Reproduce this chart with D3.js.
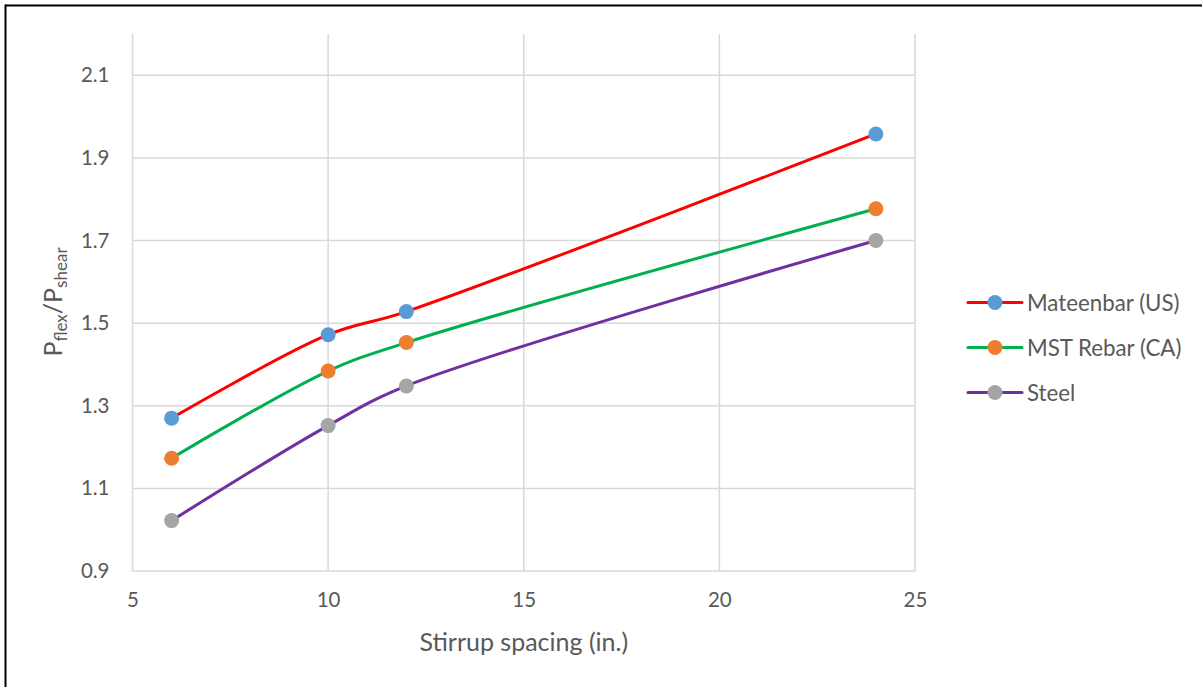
<!DOCTYPE html>
<html>
<head>
<meta charset="utf-8">
<script src="https://cdn.jsdelivr.net/npm/d3@7"></script>
<style>
  html, body { margin: 0; padding: 0; background: #fff; }
  svg { display: block; font-family: Lato, "Open Sans", sans-serif; }
</style>
</head>
<body>
<svg id="chart" width="1202" height="687"></svg>
<script>
// Stirrup spacing (in.) and flexural/shear capacity ratios
const spacing = [6, 10, 12, 24];
const mateenbar = [1.27, 1.472, 1.528, 1.958];
const mstRebar = [1.173, 1.384, 1.453, 1.777];
const steel = [1.022, 1.252, 1.348, 1.70];

const seriesNames = ["Mateenbar (US)", "MST Rebar (CA)", "Steel"];
const lineColors = ["#FF0000", "#00B050", "#7030A0"];
const markerColors = ["#5B9BD5", "#ED7D31", "#A5A5A5"];

const xTicks = [5, 10, 15, 20, 25];
const yTicks = [0.9, 1.1, 1.3, 1.5, 1.7, 1.9, 2.1];

const series = [mateenbar, mstRebar, steel].map((vals, i) => ({
  name: seriesNames[i],
  line: lineColors[i],
  marker: markerColors[i],
  points: spacing.map((s, j) => ({ x: s, y: vals[j] }))
}));

const svg = d3.select("#chart");
const plot = { left: 132.5, right: 915, top: 34, bottom: 571 };
const textColor = "#595959";

const x = d3.scaleLinear().domain([5, 25]).range([plot.left, plot.right]);
const y = d3.scaleLinear().domain([0.9, 2.2]).range([plot.bottom, plot.top]);

// frame edges
svg.append("line").attr("x1", 5).attr("x2", 1202).attr("y1", 5.5).attr("y2", 5.5)
  .attr("stroke", "#000").attr("stroke-width", 2);
svg.append("line").attr("x1", 5.5).attr("x2", 5.5).attr("y1", 4.5).attr("y2", 687)
  .attr("stroke", "#000").attr("stroke-width", 2);

// gridlines
const grid = svg.append("g").attr("stroke", "#D9D9D9").attr("stroke-width", 1.5);
grid.selectAll("line.h").data(yTicks).join("line")
  .attr("x1", plot.left).attr("x2", plot.right)
  .attr("y1", d => y(d)).attr("y2", d => y(d));
grid.selectAll("line.v").data(xTicks).join("line")
  .attr("x1", d => x(d)).attr("x2", d => x(d))
  .attr("y1", plot.top).attr("y2", plot.bottom);

// axes (labels only; lines come from the grid)
const xAxis = svg.append("g").attr("transform", `translate(0,${plot.bottom})`)
  .call(d3.axisBottom(x).tickValues(xTicks).tickSize(0).tickPadding(21).tickFormat(d3.format("d")));
const yAxis = svg.append("g").attr("transform", `translate(${plot.left},0)`)
  .call(d3.axisLeft(y).tickValues(yTicks).tickSize(0).tickPadding(23).tickFormat(d3.format(".1f")));
[xAxis, yAxis].forEach(a => {
  a.select(".domain").remove();
  a.selectAll("text").attr("fill", textColor).style("font-size", "20.5px")
    .style("font-family", "Lato, 'Open Sans', sans-serif");
});

// series lines and markers
const line = d3.line().x(d => x(d.x)).y(d => y(d.y)).curve(d3.curveCatmullRom.alpha(0.5));
const sg = svg.append("g").selectAll("g").data(series).join("g");
sg.append("path").attr("d", d => line(d.points)).attr("fill", "none")
  .attr("stroke", d => d.line).attr("stroke-width", 3).attr("stroke-linecap", "round");
sg.each(function (d) {
  d3.select(this).selectAll("circle").data(d.points).join("circle")
    .attr("cx", p => x(p.x)).attr("cy", p => y(p.y)).attr("r", 7.5)
    .attr("fill", d.marker);
});

// axis titles
svg.append("text").attr("x", (plot.left + plot.right) / 2).attr("y", 651)
  .attr("text-anchor", "middle").attr("fill", textColor).style("font-size", "25px")
  .text("Stirrup spacing (in.)");

const yt = svg.append("text").attr("transform", "translate(62,302) rotate(-90)")
  .attr("text-anchor", "middle").attr("fill", textColor).style("font-size", "25px");
yt.append("tspan").text("P");
yt.append("tspan").attr("dy", 5).style("font-size", "17px").text("flex");
yt.append("tspan").attr("dy", -5).text("/P");
yt.append("tspan").attr("dy", 5).style("font-size", "17px").text("shear");

// legend
const legend = svg.append("g").selectAll("g").data(series).join("g")
  .attr("transform", (d, i) => `translate(968,${302.5 + i * 45})`);
legend.append("line").attr("x1", 0).attr("x2", 54).attr("stroke", d => d.line)
  .attr("stroke-width", 3).attr("stroke-linecap", "round");
legend.append("circle").attr("cx", 27).attr("r", 7.5).attr("fill", d => d.marker);
legend.append("text").attr("x", 59).attr("dy", "0.36em").attr("fill", textColor)
  .style("font-size", "22.3px").text(d => d.name);
</script>
</body>
</html>
